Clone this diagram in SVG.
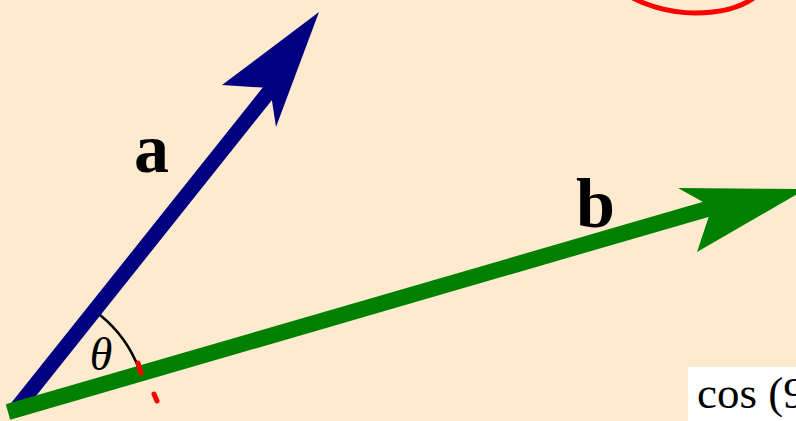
<svg xmlns="http://www.w3.org/2000/svg" width="796" height="421" viewBox="0 0 796 421">
<style>
.lbl{font-family:"Liberation Serif","DejaVu Serif",serif;fill:#000}
.bold{font-weight:bold;font-size:70px}
.red{stroke:#ff0000;fill:none;stroke-linecap:round}
</style>
<rect x="0" y="0" width="796" height="421" fill="#fdeacf"/>
<g id="connectors">
  <g id="vec-a">
    <line x1="16" y1="409" x2="272" y2="88" stroke="#000080" stroke-width="15"/>
    <polygon points="319,12 222,85 270,88 276,127" fill="#000080"/>
  </g>
  <g id="vec-b">
    <line x1="8" y1="412" x2="714" y2="207" stroke="#008000" stroke-width="16"/>
    <polygon points="806,189 678,188 712,207 697,252" fill="#008000"/>
  </g>
  <path id="angle-arc" d="M100,315 A127,127 0 0 1 139,369" fill="none" stroke="#000" stroke-width="2.5"/>
</g>
<g id="label-a"><text class="lbl bold" x="134" y="172">a</text></g>
<g id="label-b"><text class="lbl bold" x="576" y="227">b</text></g>
<g id="label-theta"><text class="lbl" x="101" y="370" font-size="46" font-style="italic" text-anchor="middle">θ</text></g>
<g id="marks">
  <line class="red" x1="138" y1="363" x2="141" y2="373" stroke-width="5"/>
  <line class="red" x1="154" y1="394" x2="157" y2="401" stroke-width="5"/>
  <path class="red" d="M620,-10 C640,5 670,13 695,13 C725,13 750,5 765,-12" stroke-width="5"/>
</g>
<g id="formula">
  <rect x="688" y="367" width="110" height="56" fill="#fff"/>
  <text class="lbl" x="697" y="408" font-size="45">cos (9</text>
</g>
</svg>
